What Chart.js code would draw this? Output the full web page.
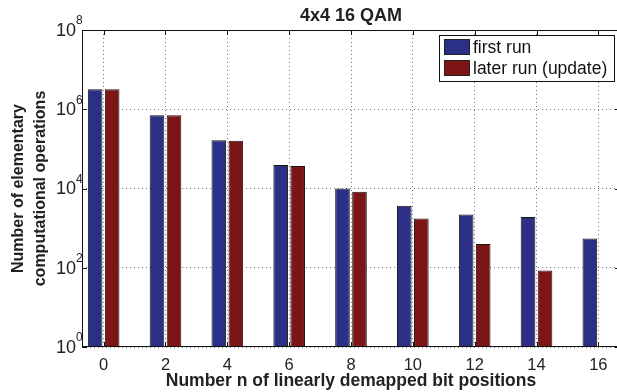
<!DOCTYPE html>
<html lang="en">
<head>
    <meta charset="UTF-8">
    <title>4x4 16 QAM</title>
    <script src="https://cdn.jsdelivr.net/npm/chart.js"></script>
    <style>
        * { margin: 0; padding: 0; box-sizing: border-box; }
        body { background: white; overflow: hidden; width: 617px; height: 392px; }
        #wrap { position: absolute; left: 0; top: 0; width: 620px; height: 392px; }
    </style>
</head>
<body>
    <div id="wrap"><canvas id="chart"></canvas></div>

    <script>
        // data
        const bitPositions = [0, 2, 4, 6, 8, 10, 12, 14, 16];
        const firstRun = [3.2e6, 7.1e5, 1.64e5, 3.9e4, 1.0e4, 3660, 2210, 1900, 550];
        const laterRun = [3.2e6, 7.1e5, 1.6e5, 3.7e4, 8300, 1750, 396, 85, null];
        const xTicks = [0, 2, 4, 6, 8, 10, 12, 14, 16];
        const yTickValues = [1, 1e2, 1e4, 1e6, 1e8];
        const yTickBase = '10';
        const yTickExponents = ['0', '2', '4', '6', '8'];
        const seriesNames = ['first run', 'later run (update)'];
        const seriesColors = ['#2b2f85', '#7d1517'];

        const FONT = "'Liberation Sans', Arial, Helvetica, sans-serif";

        function toPoints(values) {
            return bitPositions.map((x, i) => ({ x: x, y: values[i] }));
        }

        // box, inward ticks, 10^n labels, title and legend (matlab style)
        const framePlugin = {
            id: 'frame',
            afterDatasetsDraw(chart) {
                const { ctx, chartArea: a, scales } = chart;
                const x = scales.x, y = scales.y;
                ctx.save();
                ctx.strokeStyle = '#111';
                ctx.lineWidth = 1;
                ctx.strokeRect(a.left + 0.5, a.top + 0.5, a.right - a.left - 1, a.bottom - a.top - 1);

                const t = 5;
                ctx.beginPath();
                xTicks.forEach(v => {
                    const px = Math.round(x.getPixelForValue(v)) + 0.5;
                    ctx.moveTo(px, a.bottom); ctx.lineTo(px, a.bottom - t);
                    ctx.moveTo(px, a.top); ctx.lineTo(px, a.top + t);
                });
                yTickValues.forEach(v => {
                    const py = Math.round(y.getPixelForValue(v)) + 0.5;
                    ctx.moveTo(a.left, py); ctx.lineTo(a.left + t, py);
                    ctx.moveTo(a.right, py); ctx.lineTo(a.right - t, py);
                });
                ctx.stroke();

                // y tick labels with raised exponent
                ctx.fillStyle = '#222';
                ctx.textBaseline = 'middle';
                yTickValues.forEach((v, i) => {
                    const py = y.getPixelForValue(v);
                    const expX = a.left - 6;
                    ctx.font = '12px ' + FONT;
                    ctx.textAlign = 'left';
                    ctx.fillText(yTickExponents[i], expX, py - 9);
                    ctx.font = '18px ' + FONT;
                    ctx.textAlign = 'right';
                    ctx.fillText(yTickBase, expX, py + 1);
                });

                // title
                ctx.font = 'bold 18px ' + FONT;
                ctx.textAlign = 'center';
                ctx.fillText('4x4 16 QAM', (a.left + a.right) / 2, 16);

                // legend
                const lx = 439, ly = 35, lw = 175, lh = 46;
                ctx.fillStyle = '#fff';
                ctx.fillRect(lx, ly, lw, lh);
                ctx.strokeStyle = '#111';
                ctx.strokeRect(lx + 0.5, ly + 0.5, lw, lh);
                ctx.font = '17.5px ' + FONT;
                ctx.textAlign = 'left';
                chart.data.datasets.forEach((ds, i) => {
                    const rowY = ly + 4 + i * 21;
                    ctx.fillStyle = ds.backgroundColor;
                    ctx.fillRect(lx + 5, rowY, 26, 16);
                    ctx.strokeStyle = '#222';
                    ctx.strokeRect(lx + 5.5, rowY + 0.5, 25, 15);
                    ctx.fillStyle = '#111';
                    ctx.fillText(ds.label, lx + 34, rowY + 9);
                });
                ctx.restore();
            }
        };

        const chart = new Chart(document.getElementById('chart'), {
            type: 'bar',
            data: {
                datasets: [
                    { label: seriesNames[0], data: toPoints(firstRun), backgroundColor: seriesColors[0], borderColor: '#151515', borderWidth: 1 },
                    { label: seriesNames[1], data: toPoints(laterRun), backgroundColor: seriesColors[1], borderColor: '#151515', borderWidth: 1 }
                ]
            },
            options: {
                responsive: true,
                maintainAspectRatio: false,
                animation: false,
                categoryPercentage: 0.55,
                barPercentage: 0.86,
                layout: { padding: { top: 30, right: 0, bottom: 0, left: 0 } },
                plugins: {
                    legend: { display: false },
                    tooltip: { enabled: false }
                },
                scales: {
                    x: {
                        type: 'linear',
                        min: -0.7,
                        max: 16.7,
                        offset: false,
                        afterBuildTicks: s => { s.ticks = xTicks.map(v => ({ value: v })); },
                        afterFit: s => { s.height = 45; },
                        grid: { offset: false, color: '#777', drawTicks: false },
                        border: { display: false, dash: [1, 3] },
                        ticks: { color: '#222', padding: 9, font: { family: FONT, size: 16.5 }, autoSkip: false, maxRotation: 0 },
                        title: {
                            display: true,
                            text: 'Number n of linearly demapped bit positions',
                            color: '#222',
                            font: { family: FONT, size: 17.5, weight: 'bold' },
                            padding: { top: 0, bottom: 0 }
                        }
                    },
                    y: {
                        type: 'logarithmic',
                        min: 1,
                        max: 1e8,
                        afterBuildTicks: s => { s.ticks = yTickValues.map(v => ({ value: v })); },
                        afterFit: s => { s.width = 82; },
                        grid: { color: '#777', drawTicks: false },
                        border: { display: false, dash: [1, 3] },
                        ticks: { display: false },
                        title: {
                            display: true,
                            text: ['Number of elementary', 'computational operations'],
                            color: '#222',
                            font: { family: FONT, size: 16, weight: 'bold', lineHeight: 1.375 },
                            padding: { top: 8, bottom: 0 }
                        }
                    }
                }
            },
            plugins: [framePlugin]
        });
    </script>
</body>
</html>
